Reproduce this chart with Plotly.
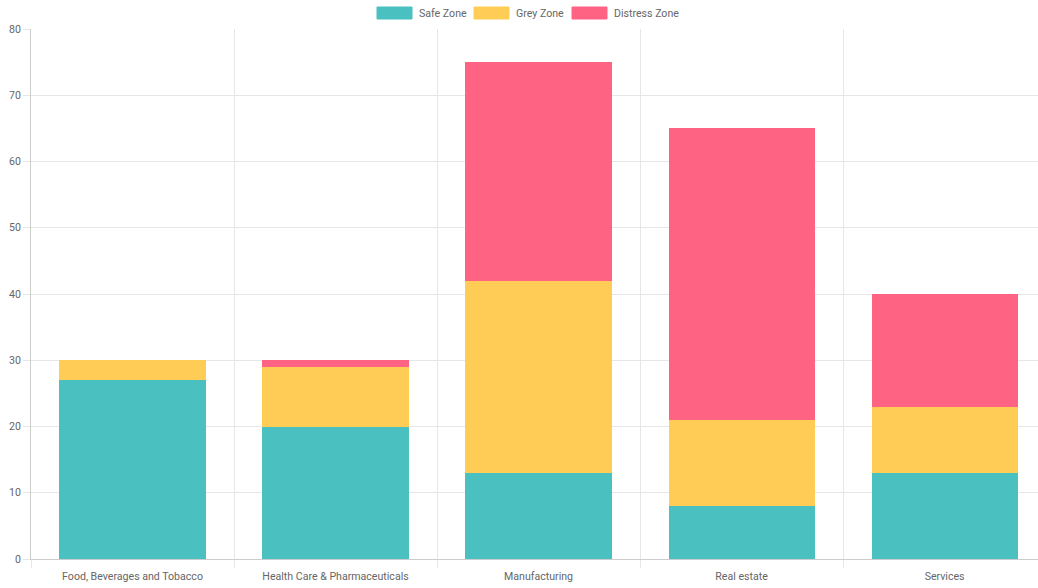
import plotly.graph_objects as go

categories = ["Food, Beverages and Tobacco", "Health Care & Pharmaceuticals",
              "Manufacturing", "Real estate", "Services"]
safe_zone = [27, 20, 13, 8, 13]
grey_zone = [3, 9, 29, 13, 10]
distress_zone = [0, 1, 33, 44, 17]

series_names = ["Safe Zone", "Grey Zone", "Distress Zone"]
series_values = [safe_zone, grey_zone, distress_zone]
series_colors = ["#4bc0c0", "#ffcd56", "#ff6384"]

FONT = "Roboto, Helvetica Neue, Arial, sans-serif"
FSIZE = 10.6

fig = go.Figure()
for name, vals, col in zip(series_names, series_values, series_colors):
    fig.add_trace(go.Bar(
        x=categories, y=vals, name=name,
        marker=dict(color=col, line=dict(width=0)),
        width=0.72, showlegend=False,
    ))

# Chart.js style legend (boxes + labels)
legend_x = [377, 474, 572]
for name, col, lx in zip(series_names, series_colors, legend_x):
    fig.add_shape(type="rect", xref="paper", yref="paper",
                  x0=(lx - 31) / 1007, x1=(lx + 35 - 31) / 1007,
                  y0=(559 - 19) / 530, y1=(559 - 7) / 530,
                  fillcolor=col, line=dict(color=col, width=1), layer="above")
    fig.add_annotation(xref="paper", yref="paper",
                       x=(lx + 40 - 31) / 1007, y=(559 - 13) / 530,
                       text=name, showarrow=False, xanchor="left", yanchor="middle",
                       font=dict(family=FONT, size=FSIZE, color="#666666"))

fig.update_layout(
    barmode="stack",
    width=1038, height=588,
    margin=dict(l=31, r=0, t=29, b=29),
    paper_bgcolor="white", plot_bgcolor="white",
    font=dict(family=FONT, size=FSIZE, color="#666666"),
)
fig.update_xaxes(
    type="category", range=[-0.5, 4.46],
    tickson="boundaries", showgrid=True, gridcolor="#e6e6e6", gridwidth=1,
    ticks="outside", ticklen=8, tickcolor="#e6e6e6",
    ticklabelstandoff=7,
    showline=True, linecolor="#cccccc", linewidth=1,
    tickfont=dict(family=FONT, size=FSIZE, color="#666666"),
    zeroline=False,
)
fig.update_yaxes(
    range=[0, 80], dtick=10, tick0=0,
    showgrid=True, gridcolor="#e6e6e6", gridwidth=1,
    ticks="outside", ticklen=7, tickcolor="#e6e6e6",
    showline=True, linecolor="#cccccc", linewidth=1,
    zeroline=False,
    tickfont=dict(family=FONT, size=FSIZE, color="#666666"),
)

fig.write_html("out.html")
